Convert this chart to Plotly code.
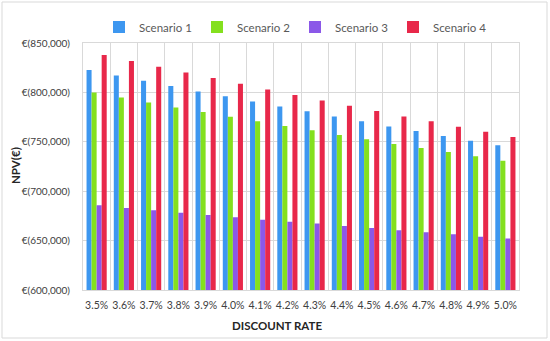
import plotly.graph_objects as go

rates = ["3.5%", "3.6%", "3.7%", "3.8%", "3.9%", "4.0%", "4.1%", "4.2%",
         "4.3%", "4.4%", "4.5%", "4.6%", "4.7%", "4.8%", "4.9%", "5.0%"]
scenario1 = [822700, 817200, 811800, 806400, 801000, 796000, 790900, 785800,
             780800, 775700, 770700, 765600, 760900, 755800, 751100, 746400]
scenario2 = [800000, 794900, 789900, 784800, 780100, 775400, 770700, 766000,
             761600, 756800, 752500, 747700, 743700, 739600, 735300, 730900]
scenario3 = [685700, 683000, 680600, 678300, 675900, 673600, 671200, 669200,
             667200, 664800, 662800, 660400, 658400, 656400, 654000, 652000]
scenario4 = [837800, 831700, 826000, 820200, 814500, 808800, 803000, 797300,
             791900, 786500, 781100, 775700, 770700, 765300, 760200, 754800]
y_ticks = [600000, 650000, 700000, 750000, 800000, 850000]
y_tick_labels = ["€(600,000)", "€(650,000)", "€(700,000)", "€(750,000)",
                 "€(800,000)", "€(850,000)"]

names = ["Scenario 1", "Scenario 2", "Scenario 3", "Scenario 4"]
colors = ["#3d97f0", "#84e01e", "#8b58e8", "#e8284a"]
series = [scenario1, scenario2, scenario3, scenario4]

FONT = "Lato"
fig = go.Figure()
for n, c, s in zip(names, colors, series):
    fig.add_trace(go.Bar(x=rates, y=s, name=n, marker_color=c,
                         marker_line_width=0))

# plot area in pixels: left 83, right 519, top 43, bottom 290
L, R, T, B = 83, 519, 43, 290
W, H = 550, 341
pw, ph = R - L, B - T

def px(x):
    return (x - L) / pw

def py(y):
    return (B - y) / ph

fig.update_layout(
    width=W, height=H,
    margin=dict(l=L, r=W - R, t=T, b=H - B, pad=0, autoexpand=False),
    paper_bgcolor="white", plot_bgcolor="white",
    barmode="group", bargap=0.26, bargroupgap=0,
    font=dict(family=FONT, size=10.5, color="#404040"),
    showlegend=True,
    legend=dict(orientation="h", xref="container", yref="container",
                x=99 / W, xanchor="left",
                y=1 - 27 / H, yanchor="middle",
                font=dict(family=FONT, size=11.5, color="#595959"),
                entrywidth=53, entrywidthmode="pixels",
                itemwidth=30, bgcolor="rgba(0,0,0,0)"),
    xaxis=dict(type="category", tickson="boundaries", showgrid=True,
               gridcolor="#d9d9d9", gridwidth=1, ticks="", tickangle=0,
               ticklabelstandoff=5, automargin=False,
               showline=True, linecolor="#d9d9d9", mirror=True,
               tickfont=dict(family=FONT, size=10.5, color="#404040")),
    yaxis=dict(range=[600000, 850000], tickvals=y_ticks,
               ticktext=y_tick_labels, showgrid=True, gridcolor="#d9d9d9",
               gridwidth=1, zeroline=False, ticks="", ticklabelstandoff=10,
               automargin=False,
               showline=True, linecolor="#d9d9d9", mirror=True,
               tickfont=dict(family=FONT, size=10, color="#404040")),
    shapes=[dict(type="rect", xref="paper", yref="paper",
                 x0=px(2), x1=px(547), y0=py(338), y1=py(2),
                 line=dict(color="#d9d9d9", width=1), layer="below")],
    annotations=[
        dict(text="<b>DISCOUNT RATE</b>", xref="paper", yref="paper",
             x=px(277), y=py(325), showarrow=False, xanchor="center",
             yanchor="middle",
             font=dict(family=FONT, size=11.5, color="#262626")),
        dict(text="<b>NPV(€)</b>", xref="paper", yref="paper",
             x=px(15), y=py(166), showarrow=False, textangle=-90,
             xanchor="center", yanchor="middle",
             font=dict(family=FONT, size=11.5, color="#262626")),
    ],
)

fig.write_html("out.html", config={"displayModeBar": False},
               post_script="document.body.style.margin='0';")
